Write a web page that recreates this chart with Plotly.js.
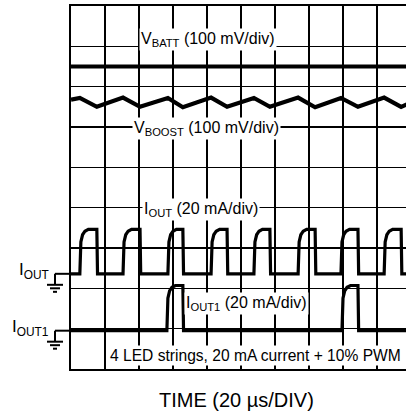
<!DOCTYPE html>
<html>
<head>
<meta charset="utf-8">
<script src="https://cdn.plot.ly/plotly-3.0.1.min.js"></script>
<style>
  html, body { margin: 0; padding: 0; overflow: hidden; background: #fff; }
  #chart { width: 430px; height: 412px; }
</style>
</head>
<body>
<div id="chart"></div>
<script>
// ---- Data (time in divisions of 20 µs, level in screen divisions) ----
const timeRange = [0, 10];
const levelRange = [0, 9];

// V_BATT: flat trace
const vbattTime = [0, 10];
const vbattLevel = [7.50, 7.50];

// V_BOOST: ripple, peaks at I_OUT rising edges, troughs at falling edges
const vboostTime  = [0, 0.26, 0.76, 1.53, 2.03, 2.85, 3.29, 4.12, 4.59, 5.38, 5.85, 6.68, 7.18, 7.94, 8.44, 9.21, 9.71, 10];
const vboostLevel = [6.68, 6.72, 6.50, 6.73, 6.50, 6.72, 6.49, 6.73, 6.50, 6.72, 6.50, 6.73, 6.49, 6.72, 6.50, 6.73, 6.50, 6.60];

// I_OUT: pulse edges and levels
const ioutRise = [0.26, 1.53, 2.85, 4.12, 5.38, 6.68, 7.94, 9.21];
const ioutFall = [0.76, 2.03, 3.29, 4.59, 5.85, 7.18, 8.44, 9.71];
const ioutLow = 2.36;
const ioutHigh = 3.46;

// I_OUT1: pulse edges and levels
const iout1Rise = [2.82, 7.97];
const iout1Fall = [3.29, 8.44];
const iout1Low = 0.95;
const iout1High = 2.07;

// Rounded rise profile (offset in div, fraction of step)
const riseOffset = [0, 0.03, 0.08, 0.15, 0.25];
const riseFrac   = [0, 0.72, 0.88, 0.96, 1.0];

// Labels
const labels = [
  {text: 'V<sub>BATT</sub> (100 mV/div)', x: 4.04, y: 8.17, size: 16},
  {text: 'V<sub>BOOST</sub> (100 mV/div)', x: 3.99, y: 5.96, size: 16},
  {text: 'I<sub>OUT</sub> (20 mA/div)', x: 3.82, y: 3.95, size: 16},
  {text: 'I<sub>OUT1</sub> (20 mA/div)', x: 5.15, y: 1.62, size: 16},
  {text: '4 LED strings, 20 mA current + 10% PWM', x: 5.43, y: 0.34, size: 15.6}
];
const xTitle = 'TIME (20 µs/DIV)';

// ---- Build pulse polylines from edges ----
function pulseTrain(rises, falls, low, high) {
  const xs = [timeRange[0]], ys = [low];
  for (let i = 0; i < rises.length; i++) {
    for (let k = 0; k < riseOffset.length; k++) {
      xs.push(rises[i] + riseOffset[k]);
      ys.push(low + (high - low) * riseFrac[k]);
    }
    xs.push(falls[i]); ys.push(high);
    xs.push(falls[i] + 0.02); ys.push(low);
  }
  xs.push(timeRange[1]); ys.push(low);
  return {xs, ys};
}
const iout = pulseTrain(ioutRise, ioutFall, ioutLow, ioutHigh);
const iout1 = pulseTrain(iout1Rise, iout1Fall, iout1Low, iout1High);

const data = [
  {x: vbattTime, y: vbattLevel, mode: 'lines', line: {color: '#000', width: 4}, hoverinfo: 'skip'},
  {x: vboostTime, y: vboostLevel, mode: 'lines', line: {color: '#000', width: 4.2}, hoverinfo: 'skip'},
  {x: iout.xs, y: iout.ys, mode: 'lines', line: {color: '#000', width: 3.2}, hoverinfo: 'skip'},
  {x: iout1.xs, y: iout1.ys, mode: 'lines', line: {color: '#000', width: 3.2}, hoverinfo: 'skip'}
];

const FONT = 'Liberation Sans, Arial, Helvetica, sans-serif';
const W = 430, H = 412, ML = 71, MR = 19, MT = 6, MB = 43;
const plotW = W - ML - MR, plotH = H - MT - MB;
const px2paperX = p => (p - ML) / plotW;
const levelToPaper = v => (v - levelRange[0]) / (levelRange[1] - levelRange[0]);

const annotations = labels.map(l => ({
  text: l.text, x: l.x, y: l.y, xref: 'x', yref: 'y',
  showarrow: false, bgcolor: '#fff', borderpad: 1,
  font: {family: FONT, size: l.size, color: '#000'},
  xanchor: 'center', yanchor: 'middle'
}));
annotations.push({
  text: xTitle, x: px2paperX(236), y: -31 / plotH, xref: 'paper', yref: 'paper',
  showarrow: false, font: {family: FONT, size: 20, color: '#000'},
  xanchor: 'center', yanchor: 'middle'
});
// channel markers on the left
const markers = [
  {text: 'I<sub>OUT</sub>', level: ioutLow},
  {text: 'I<sub>OUT1</sub>', level: iout1Low}
];
const shapes = [];
markers.forEach(m => {
  const yp = levelToPaper(m.level);
  annotations.push({
    text: m.text, x: px2paperX(51), y: yp, yshift: 3, xref: 'paper', yref: 'paper',
    showarrow: false, font: {family: FONT, size: 17, color: '#000'},
    xanchor: 'right', yanchor: 'middle'
  });
  const dy = p => yp - p / plotH;
  const ln = {color: '#000', width: 2};
  shapes.push({type: 'line', xref: 'paper', yref: 'paper', x0: px2paperX(55), x1: px2paperX(71), y0: yp, y1: yp, line: ln});
  shapes.push({type: 'line', xref: 'paper', yref: 'paper', x0: px2paperX(55), x1: px2paperX(55), y0: yp, y1: dy(11), line: ln});
  shapes.push({type: 'line', xref: 'paper', yref: 'paper', x0: px2paperX(47), x1: px2paperX(63), y0: dy(11), y1: dy(11), line: ln});
  shapes.push({type: 'line', xref: 'paper', yref: 'paper', x0: px2paperX(50), x1: px2paperX(60), y0: dy(14.5), y1: dy(14.5), line: ln});
  shapes.push({type: 'line', xref: 'paper', yref: 'paper', x0: px2paperX(53), x1: px2paperX(57), y0: dy(18), y1: dy(18), line: ln});
});

const axisBase = {
  showgrid: true, gridcolor: '#000', gridwidth: 1.6,
  showline: true, linecolor: '#000', linewidth: 2.2, mirror: true,
  zeroline: false, showticklabels: false, ticks: '', dtick: 1, tick0: 0,
  fixedrange: true
};
const layout = {
  width: W, height: H,
  margin: {l: ML, r: MR, t: MT, b: MB, pad: 0},
  paper_bgcolor: '#fff', plot_bgcolor: '#fff',
  showlegend: false,
  xaxis: Object.assign({}, axisBase, {range: timeRange}),
  yaxis: Object.assign({}, axisBase, {range: levelRange}),
  annotations: annotations,
  shapes: shapes
};
Plotly.newPlot('chart', data, layout, {staticPlot: true, displayModeBar: false});
</script>
</body>
</html>
